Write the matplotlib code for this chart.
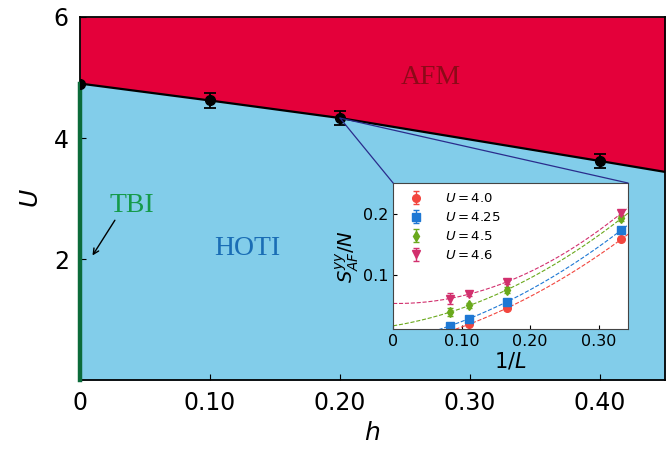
import numpy as np
import matplotlib
matplotlib.use('Agg')
import matplotlib.pyplot as plt
from matplotlib.patches import ConnectionPatch

# phase boundary (main panel)
h_pts = [0.0, 0.10, 0.20, 0.40]
U_pts = [4.90, 4.62, 4.33, 3.62]
U_err = [0.0, 0.12, 0.12, 0.12]
h_edge = 0.45
U_edge = 3.44

# inset: structure factor vs 1/L
invL = [1/12, 1/9, 1/6, 1/3]
S_data = {
    '4.0':  [0.008, 0.021, 0.046, 0.159],
    '4.25': [0.0176, 0.0286, 0.057, 0.174],
    '4.5':  [0.0396, 0.0505, 0.0764, 0.193],
    '4.6':  [0.0615, 0.070, 0.089, 0.2016],
}
S_err = {
    '4.0':  [0.003, 0.003, 0.003, 0.003],
    '4.25': [0.003, 0.003, 0.003, 0.003],
    '4.5':  [0.006, 0.004, 0.005, 0.004],
    '4.6':  [0.009, 0.004, 0.003, 0.003],
}
colors = {'4.0': '#F2463E', '4.25': '#1E78D4', '4.5': '#6AA91C', '4.6': '#D2306E'}
markers = {'4.0': 'o', '4.25': 's', '4.5': 'd', '4.6': 'v'}

fig = plt.figure(figsize=(6.72, 4.53), dpi=100)
ax = fig.add_axes([0.119, 0.161, 0.8706, 0.8015])

hb = h_pts + [h_edge]
Ub = U_pts + [U_edge]
ax.fill_between(hb, Ub, 6, color='#E4003A', lw=0)
ax.fill_between(hb, 0, Ub, color='#82CDEA', lw=0)
ax.plot(hb, Ub, color='black', lw=1.6, zorder=3)
ax.errorbar(h_pts, U_pts, yerr=U_err, fmt='o', color='black', ms=7,
            capsize=4, elinewidth=1.3, capthick=1.3, zorder=4)
ax.plot([0, 0], [0, U_pts[0]], color='#0B6B3A', lw=3.2, zorder=3, clip_on=False)

ax.text(0.27, 5.0, 'AFM', family='Liberation Serif', fontsize=20, color='#8C0A18',
        ha='center', va='center')
ax.text(0.129, 2.18, 'HOTI', family='Liberation Serif', fontsize=20, color='#1A6DB5',
        ha='center', va='center')
ax.text(0.04, 2.88, 'TBI', family='Liberation Serif', fontsize=20, color='#159A4A',
        ha='center', va='center')
ax.annotate('', xy=(0.0085, 2.02), xytext=(0.028, 2.68),
            arrowprops=dict(arrowstyle='->', color='black', lw=1))

ax.set_xlim(0, 0.45)
ax.set_ylim(0, 6)
ax.set_xticks([0, 0.1, 0.2, 0.3, 0.4])
ax.set_xticklabels(['0', '0.10', '0.20', '0.30', '0.40'])
ax.set_yticks([2, 4, 6])
ax.set_yticklabels(['2', '4', '6'])
ax.tick_params(direction='in', labelsize=17, length=4, pad=8)
ax.set_xlabel('$h$', fontsize=18)
ax.set_ylabel('$U$', fontsize=18, labelpad=8)
for s in ax.spines.values():
    s.set_linewidth(1.3)

# inset
axin = fig.add_axes([0.585, 0.2737, 0.3495, 0.3223])
xf = np.linspace(0, 0.345, 200)
for key in S_data:
    c = colors[key]
    axin.errorbar(invL, S_data[key], yerr=S_err[key], fmt=markers[key], color=c,
                  ms=5.5, capsize=2, elinewidth=1, label='$U=%s$' % key)
    p = np.polyfit(invL, S_data[key], 2)
    axin.plot(xf, np.polyval(p, xf), '--', color=c, lw=0.8)
axin.set_xlim(0, 0.343)
axin.set_ylim(0.012, 0.251)
axin.set_xticks([0, 0.1, 0.2, 0.3])
axin.set_xticklabels(['0', '0.10', '0.20', '0.30'])
axin.set_yticks([0.1, 0.2])
axin.set_yticklabels(['0.1', '0.2'])
axin.tick_params(direction='in', labelsize=11.5, length=3)
axin.set_xlabel('$1/L$', fontsize=15, labelpad=1)
axin.set_ylabel('$S^{yy}_{AF}/N$', fontsize=14, labelpad=1)
axin.legend(loc='upper left', frameon=False, fontsize=9.5, handletextpad=1.2,
            borderaxespad=0.3, labelspacing=0.45)
for s in axin.spines.values():
    s.set_color('#444444')

for corner in [(0, 1), (1, 1)]:
    con = ConnectionPatch(xyA=(0.2, 4.33), coordsA=ax.transData,
                          xyB=corner, coordsB=axin.transAxes,
                          color='#2A2C8C', lw=0.9)
    fig.add_artist(con)

fig.savefig('out.png', dpi=100)
